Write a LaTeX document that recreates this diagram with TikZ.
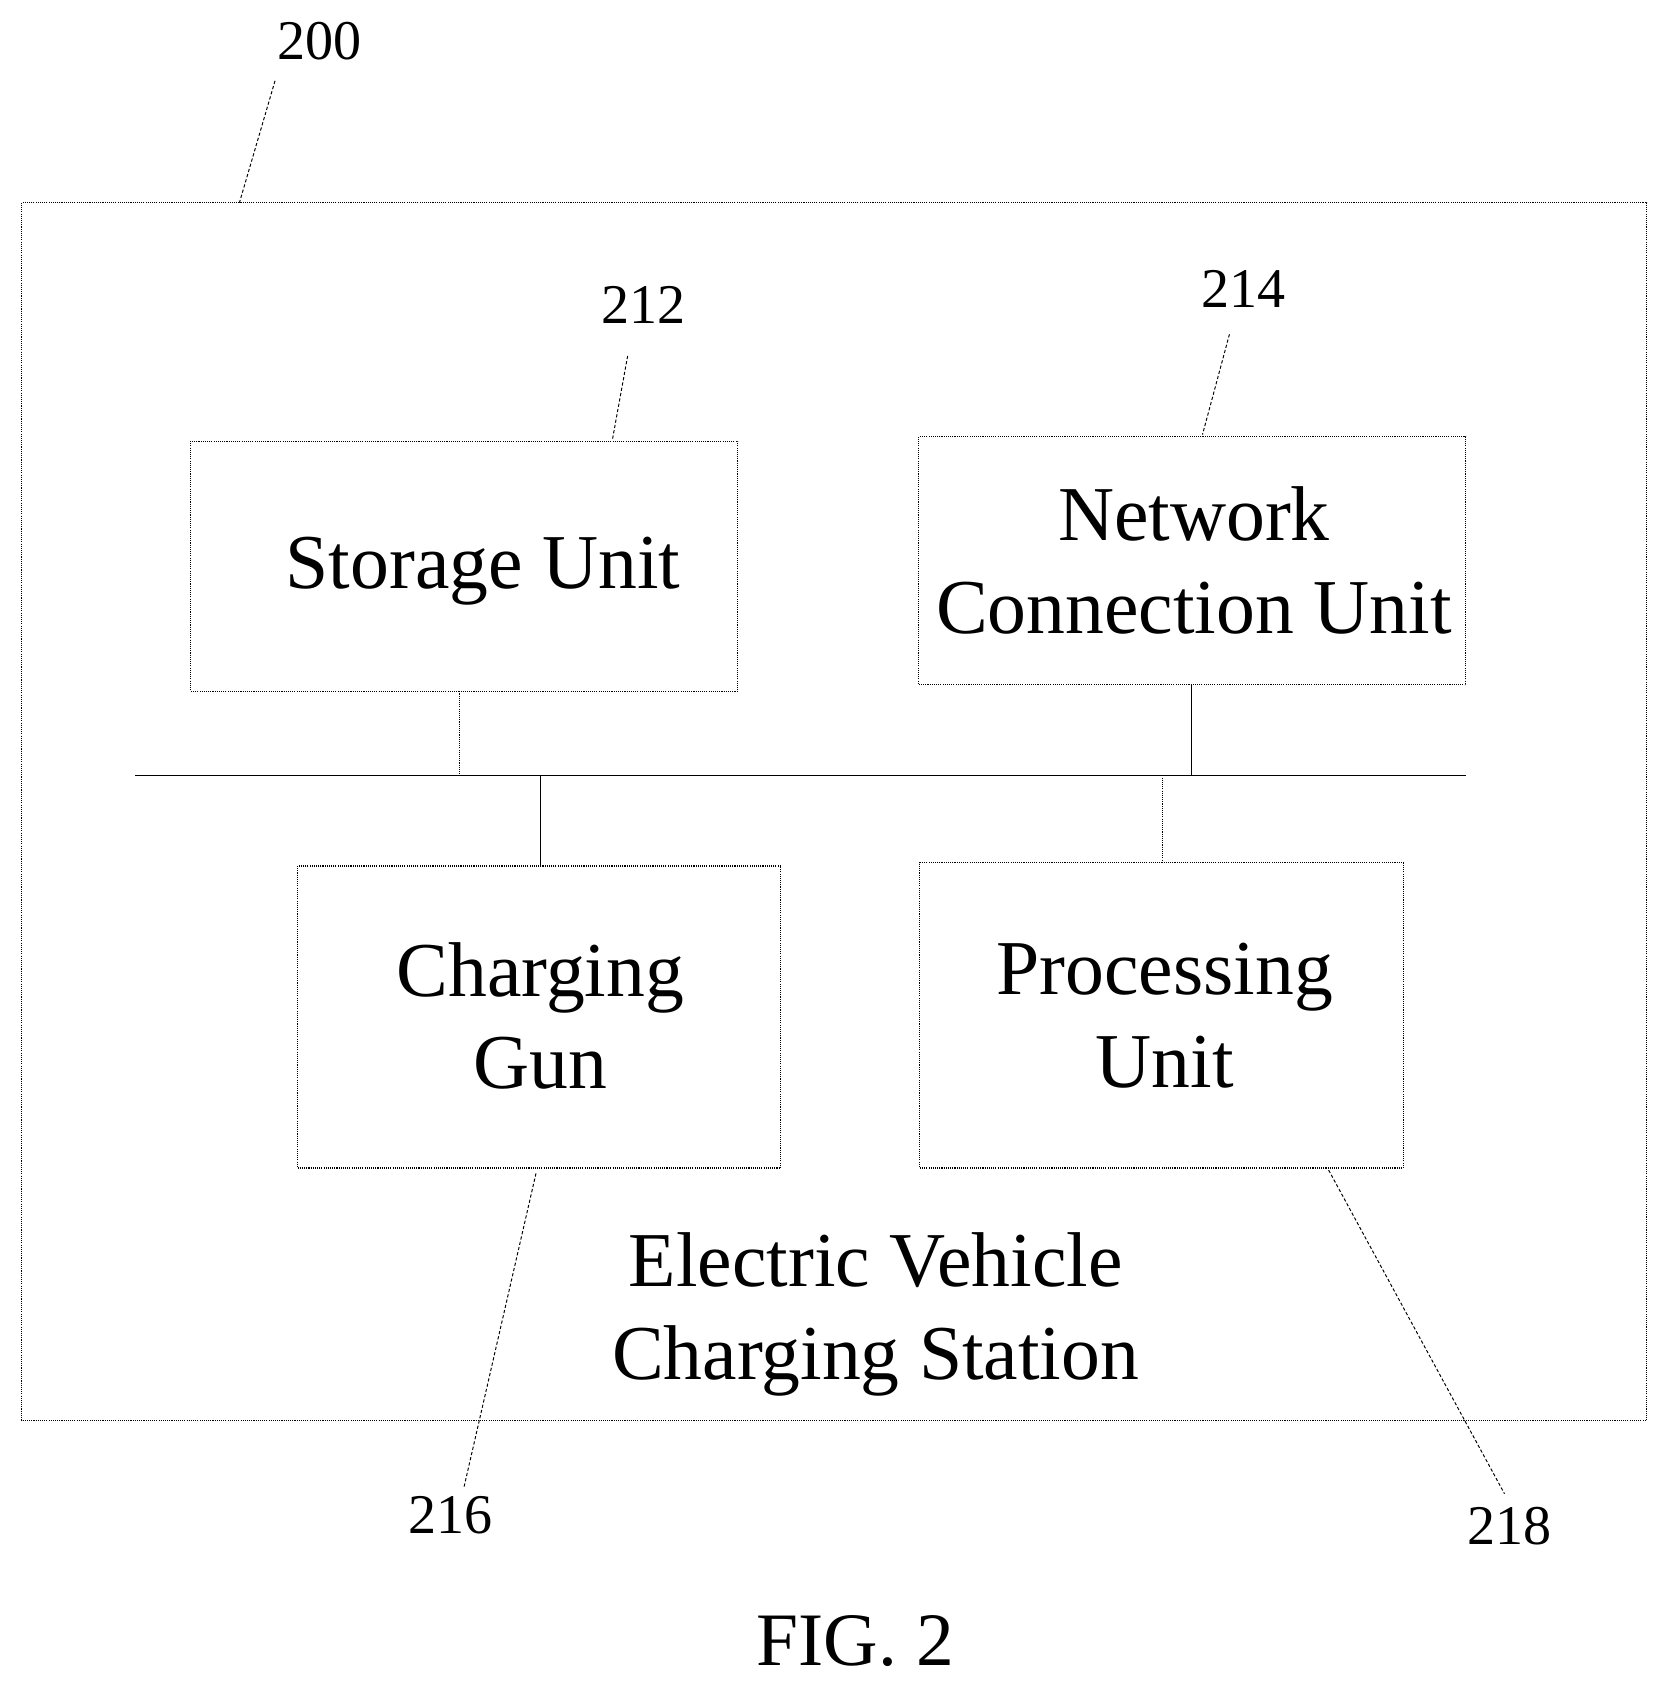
\documentclass[tikz,border=0pt]{standalone}
\usepackage{fontspec}
\setmainfont{Liberation Serif}
\begin{document}
\begin{tikzpicture}[x=1pt,y=-1pt,
  box/.style={draw,densely dotted,line width=1pt},
  lead/.style={draw,densely dashed,line width=0.9pt},
  big/.style={font=\fontsize{72}{86}\selectfont,align=center},
  num/.style={font=\fontsize{52}{60}\selectfont}]
\useasboundingbox (0,0) rectangle (1547,1568);
\draw[box] (20,188) rectangle (1527,1317);
\node[num] (n200) at (296,38) {200};
\coordinate (c200) at (222,188);
\draw[lead] (255,75) -- (c200);
\node[box,minimum width=507pt,minimum height=232pt] (st) at (430.5,525) {};
\node[big] at (448,530) {Storage Unit};
\node[box,minimum width=507pt,minimum height=230pt] (nc) at (1105.5,520) {};
\node[big] at (1107,520) {Network\\Connection Unit};
\node[box,minimum width=448pt,minimum height=280pt] (cg) at (500,943) {};
\node[big] at (501,942) {Charging\\Gun};
\node[box,minimum width=448pt,minimum height=283pt] (pu) at (1077,941.5) {};
\node[big] at (1080,942) {Processing\\Unit};
\node[num] (n212) at (597,283) {212};
\node[num] (n214) at (1153,268) {214};
\node[num] (n216) at (418,1405) {216};
\node[num] (n218) at (1400,1415) {218};
\draw[lead] (582,330) -- (568,407);
\draw[lead] (1140,310) -- (1115,403);
\draw[lead] (497,1088) -- (430,1380);
\draw[lead] (1232,1085) -- (1395,1385);
\coordinate (b1) at (125,719); \coordinate (b2) at (1359,719);
\draw[line width=1.2pt] (b1) -- (b2);
\draw[densely dotted,line width=1pt] (426,641) -- (426,719);
\draw[line width=1pt] (1105,635) -- (1105,719);
\draw[line width=1pt] (501,719) -- (501,802);
\draw[densely dotted,line width=1pt] (1078,719) -- (1078,799);
\node[big] (evcs) at (812,1219) {Electric Vehicle\\Charging Station};
\node[font=\fontsize{70}{80}\selectfont] (fig) at (793,1522) {FIG. 2};
\end{tikzpicture}
\end{document}
